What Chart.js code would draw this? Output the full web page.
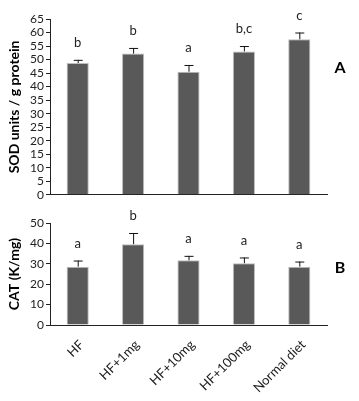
<!DOCTYPE html>
<html lang="en">
<head>
<meta charset="UTF-8">
<title>SOD and CAT activity</title>
<script src="https://cdn.jsdelivr.net/npm/chart.js"></script>
<style>
  body { margin: 0; background: #fff; }
  .panel { position: absolute; left: 0; width: 359px; }
</style>
</head>
<body>
<div class="panel" style="top:200px;height:201px;"><canvas id="catChart" width="359" height="201"></canvas></div>
<div class="panel" style="top:0;height:204px;"><canvas id="sodChart" width="359" height="204"></canvas></div>
<script>
// data
const categories = ['HF', 'HF+1mg', 'HF+10mg', 'HF+100mg', 'Normal diet'];
const sodValues = [48.7, 52.2, 45.5, 53.0, 57.5];
const sodErrors = [1.2, 2.1, 2.5, 2.0, 2.5];
const sodLetters = ['b', 'b', 'a', 'b,c', 'c'];
const catValues = [28.6, 39.6, 31.7, 30.3, 28.6];
const catErrors = [3.0, 5.5, 2.2, 2.8, 2.5];
const catLetters = ['a', 'b', 'a', 'a', 'a'];

const FONT = 'Lato, "Liberation Sans", sans-serif';
Chart.defaults.font.family = FONT;
Chart.defaults.color = '#222';

// error bars (upper whisker only), significance letters and panel tag
const extrasPlugin = {
    id: 'extras',
    afterDatasetsDraw(chart, args, opts) {
        const ctx = chart.ctx;
        const xs = chart.scales.x, ys = chart.scales.y;
        const vals = chart.data.datasets[0].data;
        ctx.save();
        vals.forEach((v, i) => {
            const x = xs.getPixelForValue(i);
            const yBar = ys.getPixelForValue(v);
            const yTop = ys.getPixelForValue(v + opts.errors[i]);
            ctx.strokeStyle = '#111';
            ctx.lineWidth = 1;
            ctx.beginPath();
            ctx.moveTo(x + 0.5, yBar);
            ctx.lineTo(x + 0.5, yTop);
            ctx.moveTo(x - 4, yTop + 0.5);
            ctx.lineTo(x + 5, yTop + 0.5);
            ctx.stroke();
            ctx.fillStyle = '#222';
            ctx.font = '13px ' + FONT;
            ctx.textAlign = 'center';
            ctx.textBaseline = 'middle';
            ctx.fillText(opts.letters[i], x, yTop - 17);
        });
        ctx.font = 'bold 16px ' + FONT;
        ctx.fillStyle = '#000';
        ctx.textAlign = 'center';
        ctx.textBaseline = 'middle';
        ctx.fillText(opts.tag, 340, opts.tagY);
        ctx.restore();
    }
};

function makeChart(id, values, errors, letters, tag, tagY, yMax, yStep, yTitle, showLabels, top, xHeight) {
    return new Chart(document.getElementById(id), {
        type: 'bar',
        data: {
            labels: categories,
            datasets: [{
                data: values,
                backgroundColor: '#595959',
                borderColor: '#bdbdbd',
                borderWidth: 1,
                barPercentage: 0.4,
                categoryPercentage: 1
            }]
        },
        options: {
            responsive: false,
            animation: false,
            layout: { padding: { top: top, right: 32, left: 0, bottom: 0 } },
            plugins: {
                legend: { display: false },
                tooltip: { enabled: false },
                extras: { errors: errors, letters: letters, tag: tag, tagY: tagY }
            },
            scales: {
                x: {
                    grid: { display: false },
                    border: { color: '#222', width: 1 },
                    ticks: {
                        display: showLabels,
                        autoSkip: false,
                        maxRotation: 45,
                        minRotation: 45,
                        padding: 4,
                        labelOffset: 4,
                        font: { size: 13 },
                        color: '#222'
                    },
                    afterFit(scale) { scale.height = xHeight; }
                },
                y: {
                    min: 0,
                    max: yMax,
                    ticks: { stepSize: yStep, autoSkip: false, font: { size: 12 }, color: '#222', padding: 2 },
                    grid: { drawOnChartArea: false, drawTicks: true, tickLength: 4, color: '#222' },
                    border: { color: '#222', width: 1 },
                    title: {
                        display: true,
                        text: yTitle,
                        font: { size: 14, weight: 'bold' },
                        color: '#000',
                        padding: { top: 6, bottom: 0 }
                    },
                    afterFit(scale) { scale.width = 50; }
                }
            }
        },
        plugins: [extrasPlugin]
    });
}

makeChart('sodChart', sodValues, sodErrors, sodLetters, 'A', 68, 65, 5,
    'SOD units / g protein', false, 19, 3);
makeChart('catChart', catValues, catErrors, catLetters, 'B', 68, 50, 10,
    'CAT (K/mg)', true, 23, 76);
</script>
</body>
</html>
